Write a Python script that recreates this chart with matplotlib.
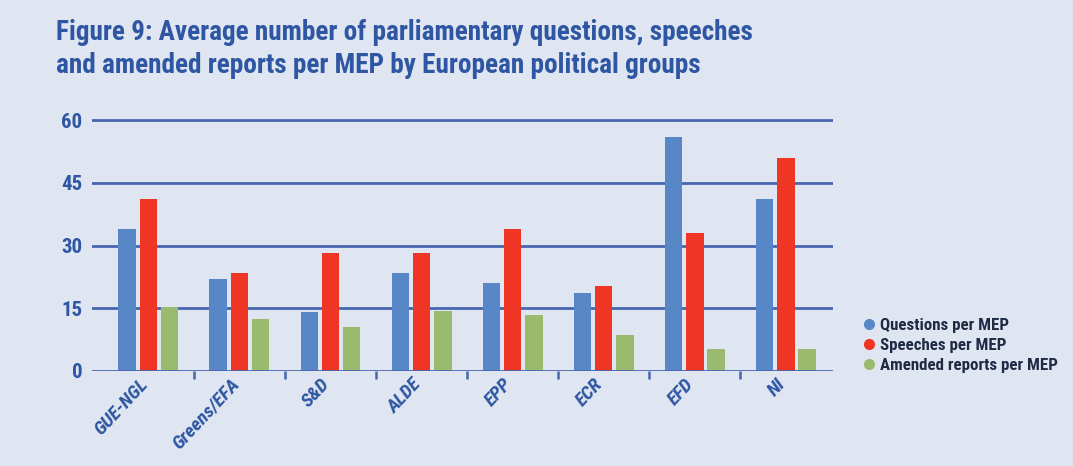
import matplotlib
matplotlib.use("Agg")
import matplotlib.pyplot as plt
from matplotlib import font_manager as fm
from matplotlib.transforms import ScaledTranslation
import numpy as np
from matplotlib.lines import Line2D

categories = ["GUE-NGL", "Greens/EFA", "S&D", "ALDE", "EPP", "ECR", "EFD", "NI"]
questions = [34.0, 22.0, 14.0, 23.5, 21.0, 18.6, 56.0, 41.2]
speeches = [41.2, 23.5, 28.3, 28.3, 34.0, 20.2, 33.0, 50.8]
amended = [15.4, 12.5, 10.6, 14.4, 13.5, 8.7, 5.3, 5.3]
series_names = ["Questions per MEP", "Speeches per MEP", "Amended reports per MEP"]
yticks = [0, 15, 30, 45, 60]

names = sorted({f.name for f in fm.fontManager.ttflist})
cands = ["Liberation Sans Narrow", "Roboto Condensed", "Open Sans Condensed", "DejaVu Sans Condensed",
         "Noto Sans Condensed", "Arial Narrow"]
cond_name = next((c for c in cands if c in names), None)
stretch = "normal"
if cond_name is None:
    cond_fonts = [f for f in fm.fontManager.ttflist
                  if (isinstance(f.stretch, str) and "condensed" in f.stretch) or
                  (not isinstance(f.stretch, str) and f.stretch < 500)]
    if cond_fonts:
        cond_name = cond_fonts[0].name
        stretch = "condensed"
if cond_name is None:
    cond_name = "Roboto" if "Roboto" in names else "DejaVu Sans"
    scale = 0.85
else:
    scale = 1.0
cond = [cond_name, "DejaVu Sans"]

bg = "#dfe6f2"
c_blue = "#5787c6"
c_red = "#ef3523"
c_green = "#9abb6d"
c_grid = "#4667b0"
c_text = "#2e56a2"

fig = plt.figure(figsize=(10.73, 4.66), dpi=100, facecolor=bg)
W, H = 1073, 466
left, right = 92, 833
bottom, top = 371, 371 - 251 * 60.5 / 60
ax = fig.add_axes([left / W, 1 - bottom / H, (right - left) / W, (bottom - top) / H])
ax.set_facecolor(bg)

x = np.arange(len(categories))
bw = 0.195
off = 0.232
for vals, col, dx in [(questions, c_blue, -off), (speeches, c_red, 0), (amended, c_green, off)]:
    ax.bar(x + dx, vals, width=bw, color=col, zorder=3)

ax.set_xlim(-0.62, 7.52)
ax.set_ylim(0, 60.5)
for s in ax.spines.values():
    s.set_visible(False)
for yv in yticks:
    ax.axhline(yv, color=c_grid, lw=2.0, zorder=2 if yv > 0 else 4)

fp = dict(family=cond, fontweight="bold", fontstretch=stretch)
ax.set_yticks(yticks)
ax.set_yticklabels([str(v) for v in yticks], fontsize=15 * scale, color=c_text, **fp)
ax.tick_params(axis="y", length=0, pad=7)

ax.set_xticks(x)
ax.set_xticklabels(categories, rotation=47, ha="right", va="top", rotation_mode="anchor",
                   fontsize=14 * scale, color=c_text, style="italic", **fp)
ax.tick_params(axis="x", which="major", length=0, pad=6)
shift = ScaledTranslation(-0.10, 0.04, fig.dpi_scale_trans)
for lab in ax.get_xticklabels():
    lab.set_transform(lab.get_transform() + shift)
ax.set_xticks(x[:-1] + 0.5, minor=True)
ax.tick_params(axis="x", which="minor", length=6, width=1.8, color=c_grid, direction="out")

fig.text(56 / W, 1 - 49 / H,
         "Figure 9: Average number of parliamentary questions, speeches\nand amended reports per MEP by European political groups",
         fontsize=19.6 * (0.92 if scale < 1 else 1), color=c_text, va="center", ha="left",
         linespacing=1.3, **fp)

handles = [Line2D([], [], marker="o", ls="", color=c, markersize=7) for c in (c_blue, c_red, c_green)]
leg = fig.legend(handles, series_names, loc="upper left", bbox_to_anchor=(845 / W, 1 - 303 / H),
                 frameon=False, handletextpad=0.15, labelspacing=0.3, handlelength=1.0,
                 prop=fm.FontProperties(family=cond, size=12.2 * scale, weight="bold", stretch=stretch))
for t in leg.get_texts():
    t.set_color("#1f2a44")

fig.savefig("out.png", dpi=100, facecolor=bg)
